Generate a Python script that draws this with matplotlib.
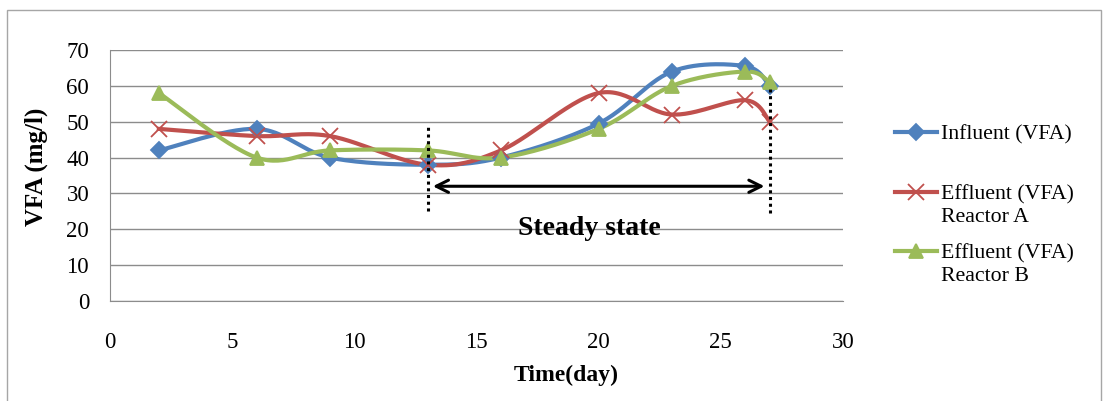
import numpy as np
import matplotlib.pyplot as plt
from matplotlib.lines import Line2D

plt.rcParams['font.family'] = ['Liberation Serif', 'DejaVu Serif']

days = [2, 6, 9, 13, 16, 20, 23, 26, 27]
influent = [42, 48, 40, 38, 40, 49.5, 64, 65.5, 60]
effluent_a = [48, 46, 46, 38, 42, 58, 52, 56, 50]
effluent_b = [58, 40, 42, 42, 40, 48, 60, 64, 61]
labels = ['Influent (VFA)', 'Effluent (VFA)\nReactor A', 'Effluent (VFA)\nReactor B']


def smooth(x, y, n=30):
    # Catmull-Rom style smoothing, like Excel's smoothed line
    x = np.asarray(x, float)
    y = np.asarray(y, float)
    px = np.concatenate([[x[0]], x, [x[-1]]])
    py = np.concatenate([[y[0]], y, [y[-1]]])
    xs, ys = [], []
    t = np.linspace(0, 1, n)
    for i in range(1, len(px) - 2):
        p0, p1, p2, p3 = [np.array([px[j], py[j]]) for j in (i - 1, i, i + 1, i + 2)]
        c1 = p1 + (p2 - p0) / 6
        c2 = p2 - (p3 - p1) / 6
        b = ((1 - t) ** 3)[:, None] * p1 + (3 * (1 - t) ** 2 * t)[:, None] * c1 \
            + (3 * (1 - t) * t ** 2)[:, None] * c2 + (t ** 3)[:, None] * p2
        xs.extend(b[:, 0])
        ys.extend(b[:, 1])
    return xs, ys


W, H = 1105, 401
fig = plt.figure(figsize=(W / 100, H / 100), dpi=100)
ax = fig.add_axes([110 / W, 1 - 301 / H, 733 / W, 251 / H])

series = [
    (influent, '#4F81BD', 'D', 8),
    (effluent_a, '#C0504D', 'x', 11),
    (effluent_b, '#9BBB59', '^', 10),
]
for vals, col, mk, ms in series:
    sx, sy = smooth(days, vals)
    ax.plot(sx, sy, color=col, lw=3, zorder=3)
    ax.plot(days, vals, ls='none', marker=mk, color=col, ms=ms, mew=1.3, zorder=4)

ax.set_xlim(0, 30)
ax.set_ylim(0, 70)
ax.set_xticks(range(0, 31, 5))
ax.set_yticks(range(0, 71, 10))
ax.yaxis.grid(True, color='#8c8c8c', lw=1)
ax.set_axisbelow(True)
for s in ['top', 'right']:
    ax.spines[s].set_visible(False)
for s in ['left', 'bottom']:
    ax.spines[s].set_color('#8c8c8c')
ax.tick_params(length=0, labelsize=16.5, colors='black')
ax.tick_params(axis='x', pad=22)
ax.tick_params(axis='y', pad=15)
ax.set_xlabel('Time(day)', fontsize=17, fontweight='bold')
ax.xaxis.set_label_coords(456 / 733, -64 / 251)
ax.set_ylabel('VFA (mg/l)', fontsize=18, fontweight='bold')
ax.yaxis.set_label_coords(-62 / 733, 0.535)

# steady state annotation
ax.plot([13, 13], [25, 48.5], color='black', ls=(0, (1, 1.2)), lw=2.2, zorder=5)
ax.plot([27, 27], [24.5, 59], color='black', ls=(0, (1, 1.2)), lw=2.2, zorder=5)
ax.annotate('', xy=(13.1, 32), xytext=(26.9, 32),
            arrowprops=dict(arrowstyle='<->', color='black', lw=2.2,
                            mutation_scale=22), zorder=5)
ax.text(19.6, 20.3, 'Steady state', fontsize=20, fontweight='bold',
        ha='center', va='center')

# legend drawn by hand to match the Excel spacing
legend_y = [132, 192, 251]
for (vals, col, mk, ms), lab, ly in zip(series, labels, legend_y):
    yf = 1 - ly / H
    fig.add_artist(Line2D([895 / W, 937 / W], [yf, yf], color=col, lw=3,
                          transform=fig.transFigure))
    fig.add_artist(Line2D([916 / W], [yf], marker=mk, color=col, ms=ms, mew=1.3,
                          transform=fig.transFigure))
    fig.text(941 / W, yf + 0.0175, lab, fontsize=15.7, va='top', ha='left',
             linespacing=1.25)

fig.patches.append(plt.Rectangle((7 / W, -0.01), 1094 / W, 1 - 10 / H + 0.01,
                                 transform=fig.transFigure,
                                 fill=False, ec='#a6a6a6', lw=1))

fig.savefig('out.png', dpi=100)
